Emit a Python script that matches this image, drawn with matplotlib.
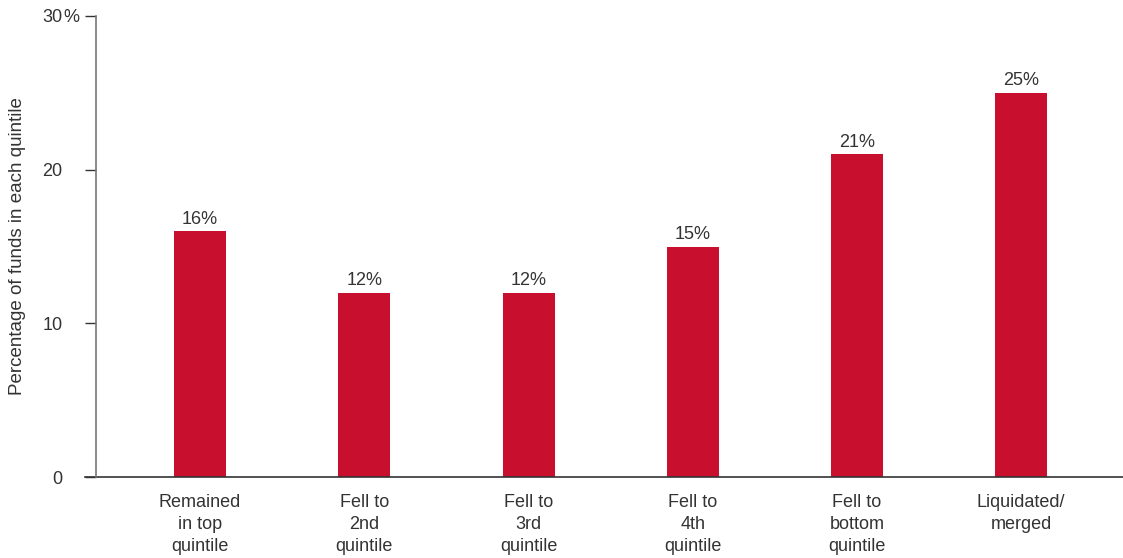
import matplotlib
matplotlib.use("Agg")
import matplotlib.pyplot as plt
from matplotlib.lines import Line2D

categories = ["Remained\nin top\nquintile", "Fell to\n2nd\nquintile", "Fell to\n3rd\nquintile",
              "Fell to\n4th\nquintile", "Fell to\nbottom\nquintile", "Liquidated/\nmerged"]
values = [16, 12, 12, 15, 21, 25]
yticks = [0, 10, 20, 30]
ytick_labels = ["0", "10", "20", "30"]

plt.rcParams["font.family"] = ["Liberation Sans", "DejaVu Sans"]
red = "#C8102E"
txt = "#333333"
fs = 13

W, H = 1123, 558
fig = plt.figure(figsize=(W / 100, H / 100), dpi=100)
ax = fig.add_axes([96 / W, (H - 477) / H, 1 - 96 / W, (477 - 16) / H])

x = list(range(len(values)))
ax.bar(x, values, width=0.317, color=red)
for xi, v in zip(x, values):
    ax.annotate(f"{v}%", (xi, v), xytext=(0, 2.5), textcoords="offset points",
                ha="center", va="bottom", fontsize=fs, color=txt)

ax.set_xlim(-0.634, 5.62)
ax.set_ylim(0, 30)
ax.set_xticks(x)
ax.set_xticklabels(categories, fontsize=fs, color=txt)
for lab in ax.get_xticklabels():
    lab.set_linespacing(1.4)
ax.tick_params(axis="x", length=0, pad=12)
ax.set_yticks(yticks)
ax.set_yticklabels(ytick_labels, fontsize=fs, color=txt)
ax.tick_params(axis="y", length=8, width=1, color="#333333", pad=16)

# percent sign hangs to the right of the top tick number
ax.annotate("%", (0, yticks[-1]), xycoords=("axes fraction", "data"),
            xytext=(-23.5, 0), textcoords="offset points",
            ha="left", va="center_baseline", fontsize=fs, color=txt)

for s in ["top", "right", "bottom"]:
    ax.spines[s].set_visible(False)
ax.spines["left"].set_color("#777777")
ax.spines["left"].set_linewidth(1.2)

# baseline extends left past the axis, under the tick marks
ax.add_line(Line2D([-11 / (W - 96), 1], [0, 0], transform=ax.transAxes,
                   color="#333333", lw=1.2, clip_on=False))

ax.set_ylabel("Percentage of funds in each quintile", fontsize=13.5, color=txt)
ax.yaxis.set_label_coords(-70 / (W - 96), 0.5)

fig.savefig("out.png", dpi=100)
